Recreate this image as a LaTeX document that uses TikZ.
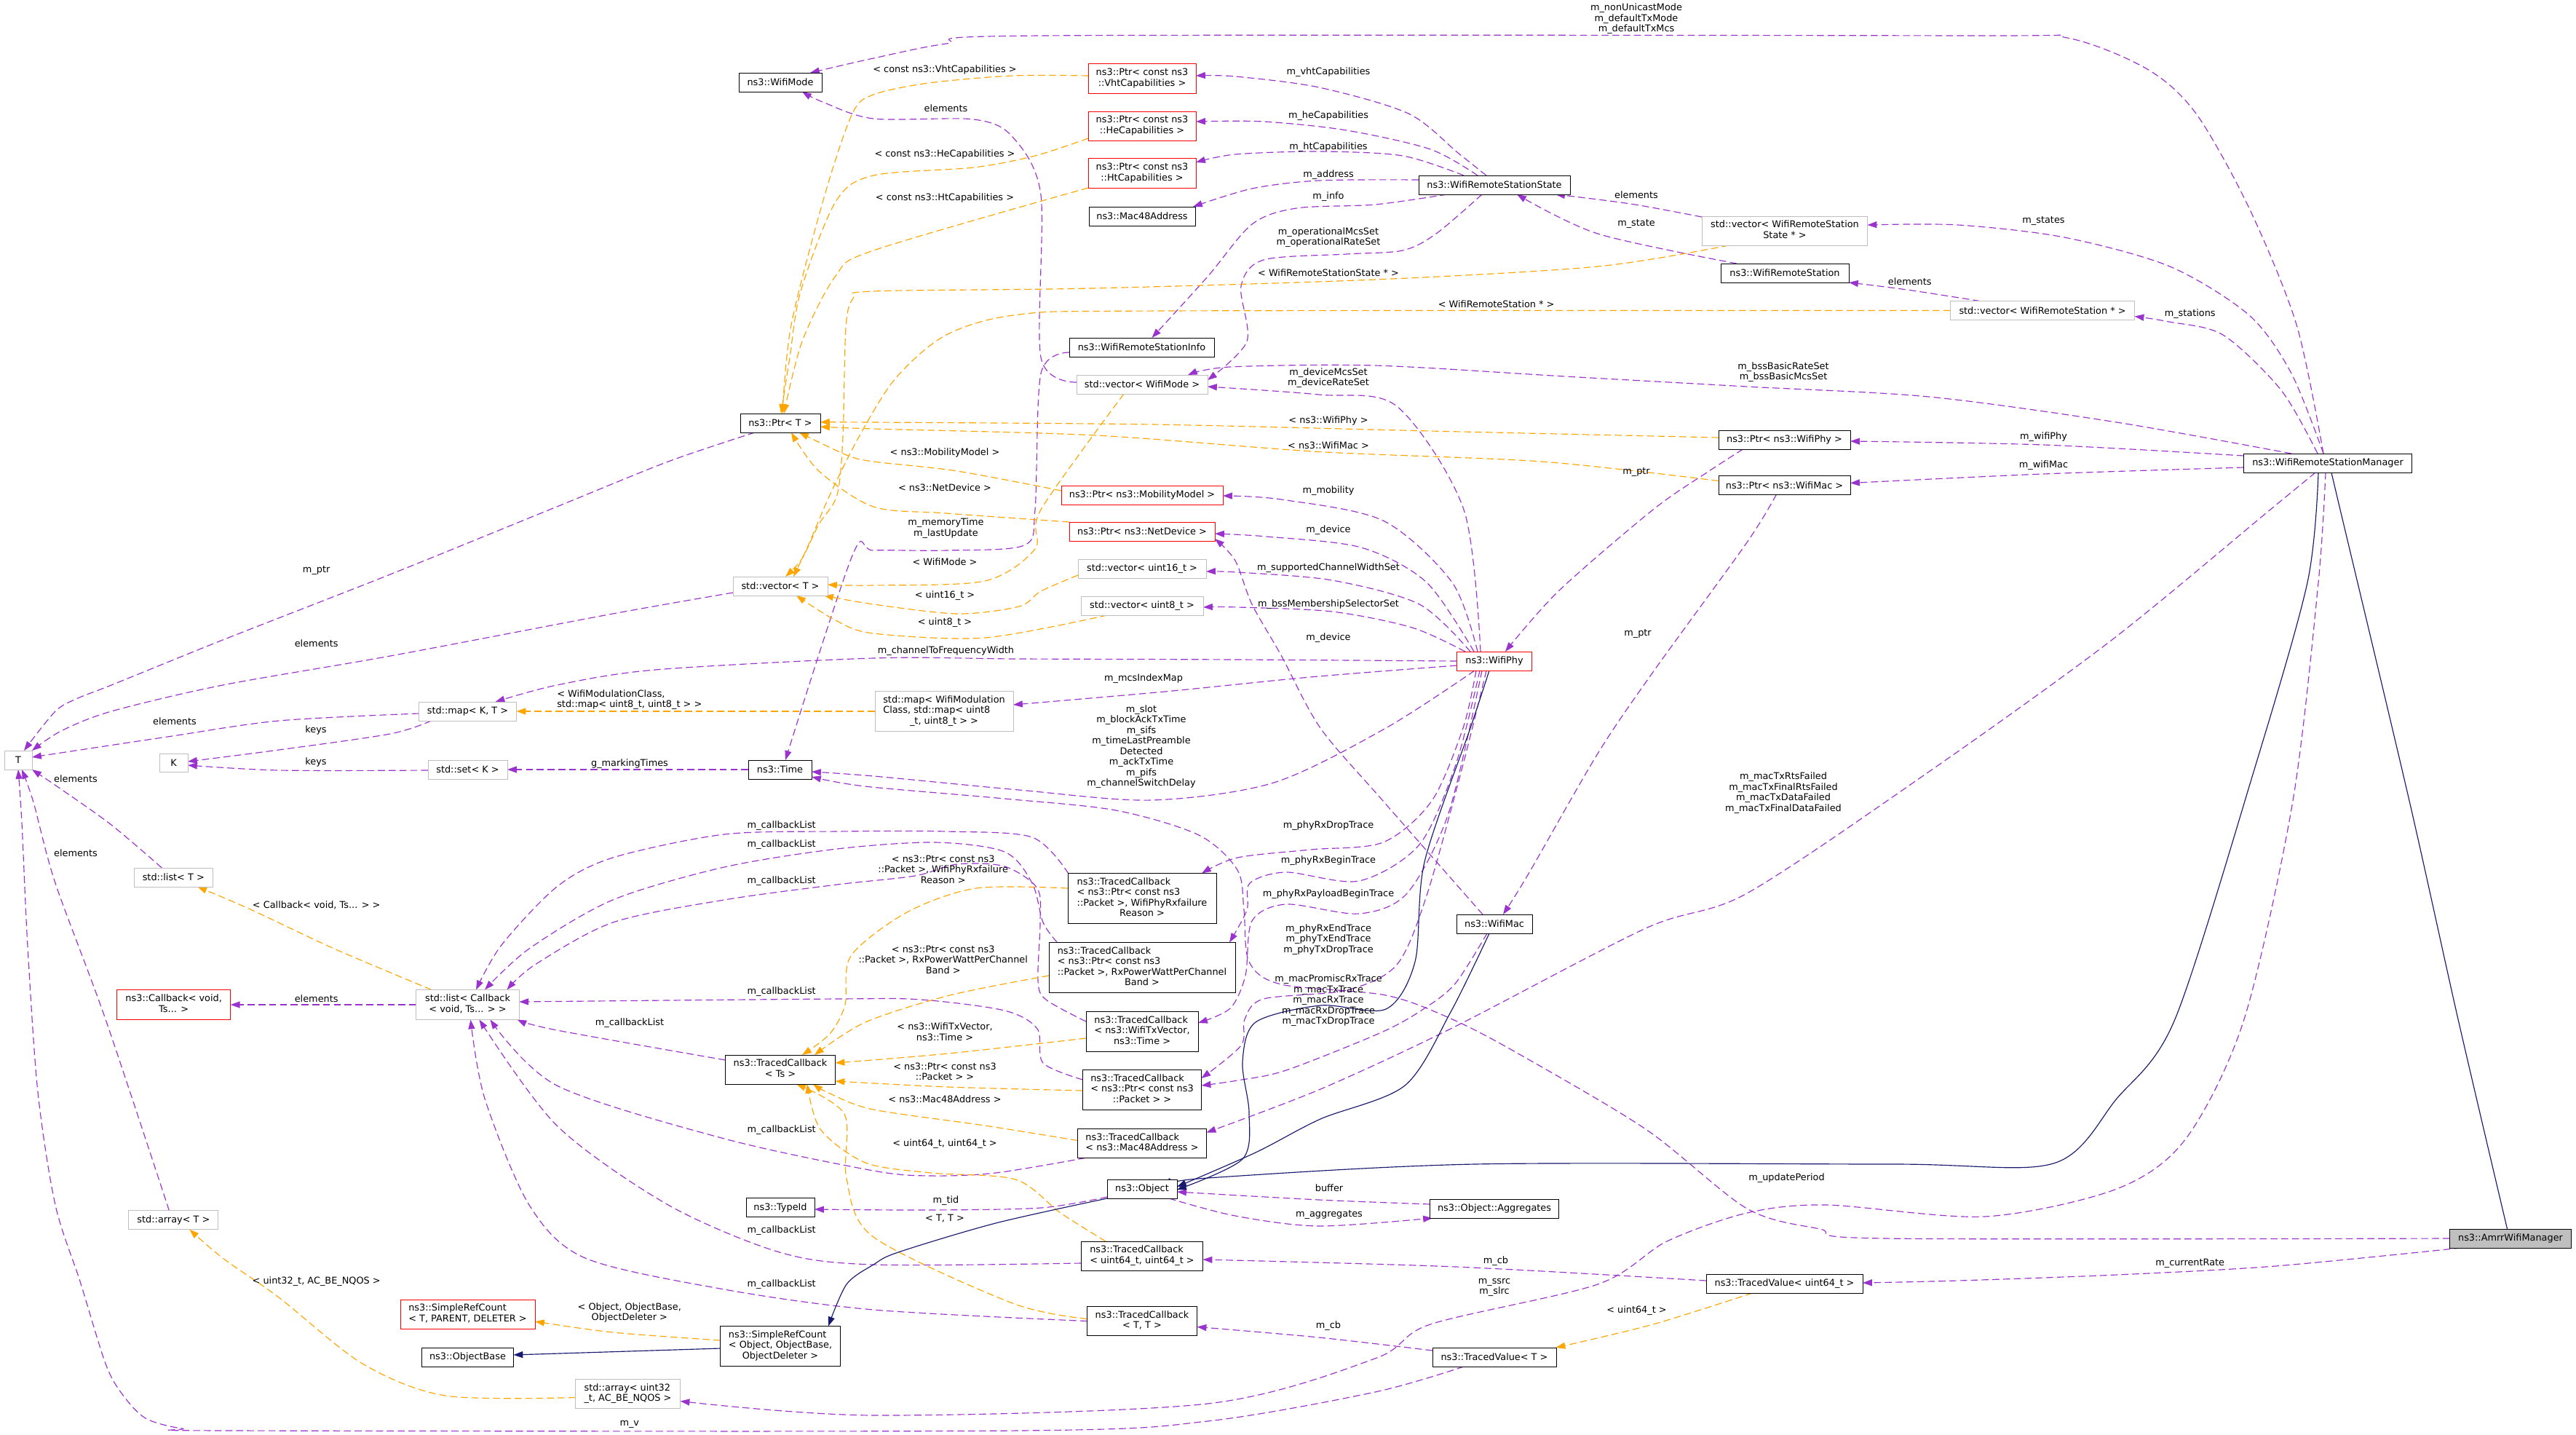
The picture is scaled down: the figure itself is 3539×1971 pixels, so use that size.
\documentclass[tikz,border=0pt]{standalone}
\usepackage{fontspec}
\setmainfont{DejaVu Sans}
\usetikzlibrary{arrows.meta,calc}
\definecolor{purp}{HTML}{9A32CD}
\definecolor{orng}{HTML}{FFA500}
\definecolor{mblue}{HTML}{191970}
\newcommand\twoL[2]{\begin{tabular}{@{}l@{}}#1\\\multicolumn{1}{@{}c@{}}{#2}\end{tabular}}
\newcommand\threeL[3]{\begin{tabular}{@{}l@{}}#1\\#2\\\multicolumn{1}{@{}c@{}}{#3}\end{tabular}}
\newcommand\fourL[4]{\begin{tabular}{@{}l@{}}#1\\#2\\#3\\\multicolumn{1}{@{}c@{}}{#4}\end{tabular}}
\pgfdeclarelayer{bgl}\pgfdeclarelayer{edges}\pgfsetlayers{bgl,edges,main}
\tikzset{
  box/.style={draw, inner sep=0pt, fill=white, line width=0.7pt, font=\fontsize{10}{11.28}\selectfont, anchor=center},
  blk/.style={box, draw=black},
  gry/.style={box, draw=black!25},
  rdb/.style={box, draw=red},
  sz/.style 2 args={minimum width=#1*0.7776pt, minimum height=#2*0.7776pt},
  lbl/.style={inner sep=0pt, align=center, font=\fontsize{10}{11.28}\selectfont},
  pe/.style={draw=purp, line width=0.9pt, dash pattern=on 7.5pt off 4pt, -{Triangle[length=10pt,width=7pt]}},
  oe/.style={draw=orng, line width=0.9pt, dash pattern=on 7.5pt off 4pt, -{Triangle[length=10pt,width=7pt]}},
  be/.style={draw=mblue, line width=0.9pt, -{Triangle[length=10pt,width=7pt]}},
}
\begin{document}
\begin{tikzpicture}[x=0.7776pt,y=-0.7776pt]
\useasboundingbox (0,0) rectangle (3539,1971);
\begin{pgfonlayer}{bgl}\fill[white] (0,0) rectangle (3539,1971);\end{pgfonlayer}
% ---------------- nodes
\node[blk,sz={114}{26}] (mode) at (1072,113) {ns3::WifiMode};
\node[rdb,sz={148}{41}] (pvht) at (1569,108) {\twoL{ns3::Ptr< const ns3}{::VhtCapabilities >}};
\node[rdb,sz={148}{40}] (phe) at (1569,173) {\twoL{ns3::Ptr< const ns3}{::HeCapabilities >}};
\node[rdb,sz={148}{41}] (pht) at (1569,238) {\twoL{ns3::Ptr< const ns3}{::HtCapabilities >}};
\node[blk,sz={146}{26}] (mac48) at (1569,297) {ns3::Mac48Address};
\node[blk,sz={208}{26}] (state) at (2053,254) {ns3::WifiRemoteStationState};
\node[blk,sz={199}{26}] (info) at (1568.5,477) {ns3::WifiRemoteStationInfo};
\node[gry,sz={180}{26}] (vmode) at (1569,528) {std::vector< WifiMode >};
\node[gry,sz={227}{40}] (vstate) at (2452,317) {\twoL{std::vector< WifiRemoteStation}{State * >}};
\node[blk,sz={176}{26}] (wrs) at (2452,375) {ns3::WifiRemoteStation};
\node[gry,sz={253}{26}] (vwrs) at (2806,426.5) {std::vector< WifiRemoteStation * >};
\node[blk,sz={231}{26}] (mgr) at (3198,636) {ns3::WifiRemoteStationManager};
\node[blk,sz={181}{26}] (pphy) at (2451.5,604) {ns3::Ptr< ns3::WifiPhy >};
\node[blk,sz={181}{26}] (pmac) at (2451.5,666.5) {ns3::Ptr< ns3::WifiMac >};
\node[blk,sz={110}{26}] (ptrT) at (1072,581) {ns3::Ptr< T >};
\node[gry,sz={130}{26}] (vecT) at (1072,805) {std::vector< T >};
\node[rdb,sz={222}{26}] (pmob) at (1569,680) {ns3::Ptr< ns3::MobilityModel >};
\node[rdb,sz={200}{26}] (pnet) at (1569,730) {ns3::Ptr< ns3::NetDevice >};
\node[gry,sz={176}{26}] (v16) at (1569,781) {std::vector< uint16\_t >};
\node[gry,sz={168}{26}] (v8) at (1569,832) {std::vector< uint8\_t >};
\node[rdb,sz={103}{26}] (phy) at (2053,908) {ns3::WifiPhy};
\node[gry,sz={190}{55}] (mapmod) at (1297,977) {\threeL{std::map< WifiModulation}{Class, std::map< uint8}{\_t, uint8\_t > >}};
\node[gry,sz={134}{26}] (mapKT) at (642.5,977) {std::map< K, T >};
\node[gry,sz={38}{26}] (T) at (25,1044) {T};
\node[gry,sz={39}{25}] (K) at (238.5,1048) {K};
\node[gry,sz={109}{26}] (setK) at (642.5,1057) {std::set< K >};
\node[blk,sz={87}{26}] (time) at (1071.5,1057) {ns3::Time};
\node[gry,sz={108}{26}] (listT) at (238.3,1205) {std::list< T >};
\node[rdb,sz={156}{41}] (cb) at (238.7,1380) {\twoL{ns3::Callback< void,}{Ts... >}};
\node[gry,sz={141.5}{41}] (listcb) at (642.5,1380) {\twoL{std::list< Callback}{< void, Ts... > >}};
\node[blk,sz={204}{69}] (tcfail) at (1569,1234) {\fourL{ns3::TracedCallback}{< ns3::Ptr< const ns3}{::Packet >, WifiPhyRxfailure}{Reason >}};
\node[blk,sz={256}{69}] (tcpow) at (1569,1329) {\fourL{ns3::TracedCallback}{< ns3::Ptr< const ns3}{::Packet >, RxPowerWattPerChannel}{Band >}};
\node[blk,sz={154}{55}] (tcvec) at (1569,1417) {\threeL{ns3::TracedCallback}{< ns3::WifiTxVector,}{ns3::Time >}};
\node[blk,sz={163}{55}] (tcpkt) at (1569,1497) {\threeL{ns3::TracedCallback}{< ns3::Ptr< const ns3}{::Packet > >}};
\node[blk,sz={177}{40}] (tcmac) at (1569,1570.5) {\twoL{ns3::TracedCallback}{< ns3::Mac48Address >}};
\node[blk,sz={96}{26}] (obj) at (1569,1633) {ns3::Object};
\node[blk,sz={177}{26}] (aggr) at (2053,1660) {ns3::Object::Aggregates};
\node[blk,sz={94}{26}] (typeid) at (1072,1658.5) {ns3::TypeId};
\node[blk,sz={167}{40}] (tcu64) at (1569,1725) {\twoL{ns3::TracedCallback}{< uint64\_t, uint64\_t >}};
\node[blk,sz={151}{40}] (tcTT) at (1569,1814.5) {\twoL{ns3::TracedCallback}{< T, T >}};
\node[blk,sz={170}{26}] (tvT) at (2053,1864) {ns3::TracedValue< T >};
\node[blk,sz={215}{26}] (tvu64) at (2451.5,1763) {ns3::TracedValue< uint64\_t >};
\node[blk,sz={167}{26},fill=black!25] (amrr) at (3449,1701) {ns3::AmrrWifiManager};
\node[blk,sz={151}{40}] (tcTs) at (1072,1469) {\twoL{ns3::TracedCallback}{< Ts >}};
\node[rdb,sz={185}{40}] (srcT) at (642.5,1805) {\twoL{ns3::SimpleRefCount}{< T, PARENT, DELETER >}};
\node[blk,sz={126}{26}] (objbase) at (642.5,1864) {ns3::ObjectBase};
\node[blk,sz={164.5}{55}] (srcObj) at (1072,1849) {\threeL{ns3::SimpleRefCount}{< Object, ObjectBase,}{ObjectDeleter >}};
\node[gry,sz={144}{40}] (arrU) at (862.5,1914.5) {\twoL{std::array< uint32}{\_t, AC\_BE\_NQOS >}};
\node[gry,sz={123}{26}] (arrT) at (238.4,1675.7) {std::array< T >};
\node[blk,sz={104}{26}] (wmac) at (2053,1269) {ns3::WifiMac};
% ---------------- labels
\node[lbl] (l1) at (2248,26) {m\_nonUnicastMode\\m\_defaultTxMode\\m\_defaultTxMcs};
\node[lbl] (l2) at (1825,99) {m\_vhtCapabilities};
\node[lbl] (l3) at (1825,159) {m\_heCapabilities};
\node[lbl] (l4) at (1825,202) {m\_htCapabilities};
\node[lbl] (l5) at (1825,240) {m\_address};
\node[lbl] (l6) at (1825,270.5) {m\_info};
\node[lbl] (l7) at (1825,326) {m\_operationalMcsSet\\m\_operationalRateSet};
\node[lbl] (l8) at (2248,268) {elements};
\node[lbl] (l9) at (2248,307) {m\_state};
\node[lbl] (l10) at (2807.5,303.6) {m\_states};
\node[lbl] (l11) at (2623.7,387) {elements};
\node[lbl] (l12) at (3008.7,431) {m\_stations};
\node[lbl] (l13) at (2450,511) {m\_bssBasicRateSet\\m\_bssBasicMcsSet};
\node[lbl] (l14) at (2807.5,600.4) {m\_wifiPhy};
\node[lbl] (l15) at (2807.5,639) {m\_wifiMac};
\node[lbl] (l16) at (2248,648.6) {m\_ptr};
\node[lbl] (l17) at (2250,870.5) {m\_ptr};
\node[lbl] (l18) at (1825,519) {m\_deviceMcsSet\\m\_deviceRateSet};
\node[lbl] (l19) at (1825,674.5) {m\_mobility};
\node[lbl] (l20) at (1825,727.7) {m\_device};
\node[lbl] (l21) at (1825,876) {m\_device};
\node[lbl] (l22) at (1825,780) {m\_supportedChannelWidthSet};
\node[lbl] (l23) at (1825,830) {m\_bssMembershipSelectorSet};
\node[lbl] (l24) at (1299.5,894) {m\_channelToFrequencyWidth};
\node[lbl] (l25) at (1571,931.7) {m\_mcsIndexMap};
\node[lbl] (l26) at (1568,1025.5) {m\_slot\\m\_blockAckTxTime\\m\_sifs\\m\_timeLastPreamble\\Detected\\m\_ackTxTime\\m\_pifs\\m\_channelSwitchDelay};
\node[lbl] (l27) at (2454.5,1618.5) {m\_updatePeriod};
\node[lbl] (l28) at (240,990.6) {elements};
\node[lbl] (l29) at (434,1002.7) {keys};
\node[lbl] (l30) at (434,1047) {keys};
\node[lbl] (l31) at (865,1048.7) {g\_markingTimes};
\node[lbl] (l32) at (434.7,783.5) {m\_ptr};
\node[lbl] (l33) at (434.7,884) {elements};
\node[lbl] (l34) at (104,1070) {elements};
\node[lbl] (l35) at (104,1171.4) {elements};
\node[lbl] (l36) at (864.8,1956.4) {m\_v};
\node[lbl] (l37) at (2053,1768.5) {m\_ssrc\\m\_slrc};
\node[lbl] (l38) at (2450,1089) {m\_macTxRtsFailed\\m\_macTxFinalRtsFailed\\m\_macTxDataFailed\\m\_macTxFinalDataFailed};
\node[lbl] (l39) at (1825,1374.4) {m\_macPromiscRxTrace\\m\_macTxTrace\\m\_macRxTrace\\m\_macRxDropTrace\\m\_macTxDropTrace};
\node[lbl] (l40) at (1825,1290.6) {m\_phyRxEndTrace\\m\_phyTxEndTrace\\m\_phyTxDropTrace};
\node[lbl] (l41) at (1825,1227.7) {m\_phyRxPayloadBeginTrace};
\node[lbl] (l42) at (1825,1182.6) {m\_phyRxBeginTrace};
\node[lbl] (l43) at (1825,1134) {m\_phyRxDropTrace};
\node[lbl] (l44) at (2055,1732.5) {m\_cb};
\node[lbl] (l45) at (3008.7,1735.4) {m\_currentRate};
\node[lbl] (l46) at (1825,1821) {m\_cb};
\node[lbl] (l47) at (1299.5,1648.7) {m\_tid};
\node[lbl] (l48) at (1826,1632) {buffer};
\node[lbl] (l49) at (1826,1668.8) {m\_aggregates};
\node[lbl] (l50) at (434.7,1371.4) {elements};
\node[lbl] (l51) at (1073.7,1134) {m\_callbackList};
\node[lbl] (l52) at (1073.7,1160) {m\_callbackList};
\node[lbl] (l53) at (1073.7,1210) {m\_callbackList};
\node[lbl] (l54) at (1073.7,1362.5) {m\_callbackList};
\node[lbl] (l55) at (865,1405) {m\_callbackList};
\node[lbl] (l56) at (1073.7,1552) {m\_callbackList};
\node[lbl] (l57) at (1073.7,1690) {m\_callbackList};
\node[lbl] (l58) at (1073.7,1764) {m\_callbackList};
\node[lbl] (l59) at (1299.5,725.7) {m\_memoryTime\\m\_lastUpdate};
\node[lbl] (l60) at (1299.5,148.7) {elements};
\node[lbl] (l61) at (1298,95.5) {< const ns3::VhtCapabilities >};
\node[lbl] (l62) at (1298,211.6) {< const ns3::HeCapabilities >};
\node[lbl] (l63) at (1298,272) {< const ns3::HtCapabilities >};
\node[lbl] (l64) at (1298,622) {< ns3::MobilityModel >};
\node[lbl] (l65) at (1298,670) {< ns3::NetDevice >};
\node[lbl] (l66) at (1825,578) {< ns3::WifiPhy >};
\node[lbl] (l67) at (1825,612) {< ns3::WifiMac >};
\node[lbl] (l68) at (1298,772) {< WifiMode >};
\node[lbl] (l69) at (1298,818) {< uint16\_t >};
\node[lbl] (l70) at (1298,855) {< uint8\_t >};
\node[lbl] (l71) at (1825,375) {< WifiRemoteStationState * >};
\node[lbl] (l72) at (2055.6,418) {< WifiRemoteStation * >};
\node[lbl,align=left,anchor=west] (l73) at (765,961) {< WifiModulationClass,\\std::map< uint8\_t, uint8\_t > >};
\node[lbl] (l74) at (434.7,1243) {< Callback< void, Ts... > >};
\node[lbl] (l75) at (434.7,1760.5) {< uint32\_t, AC\_BE\_NQOS >};
\node[lbl] (l76) at (864.8,1803) {< Object, ObjectBase,\\ObjectDeleter >};
\node[lbl] (l77) at (2248.5,1800.6) {< uint64\_t >};
\node[lbl] (l78) at (1295.7,1194) {< ns3::Ptr< const ns3\\::Packet >, WifiPhyRxfailure\\Reason >};
\node[lbl] (l79) at (1295.7,1318) {< ns3::Ptr< const ns3\\::Packet >, RxPowerWattPerChannel\\Band >};
\node[lbl] (l80) at (1298,1417) {< ns3::WifiTxVector,\\ns3::Time >};
\node[lbl] (l81) at (1298,1472) {< ns3::Ptr< const ns3\\::Packet > >};
\node[lbl] (l82) at (1298,1510) {< ns3::Mac48Address >};
\node[lbl] (l83) at (1298,1571.5) {< uint64\_t, uint64\_t >};
\node[lbl] (l84) at (1298,1674) {< T, T >};
% ---------------- edges
\begin{pgfonlayer}{edges}
% purple usage edges
\draw[pe] plot[smooth] coordinates {($(mgr)+(-6,-13)$) (3155,446) (3090,286) (3017,156) (2950,95) (2840,52) (2700,49) (1430,49) (1300,60) (1200,80) ($(mode)+(41,-13)$)};
\draw[pe] plot[smooth] coordinates {($(state)+(-11,-13)$) (2003,210) (1935,156) (1812,120) (1697,105) ($(pvht)+(74,-4)$)};
\draw[pe] plot[smooth] coordinates {($(state)+(-23,-13)$) (1965,205) (1850,179) (1736,167) ($(phe)+(74,-6)$)};
\draw[pe] plot[smooth] coordinates {($(state)+(-42,-13)$) (1927,214) (1812,208) (1697,212) ($(pht)+(74,-15)$)};
\draw[pe] plot[smooth] coordinates {($(state)+(-104,-7)$) (1812,248) (1720,259) ($(mac48)+(70,-13)$)};
\draw[pe] plot[smooth] coordinates {($(state)+(-65,13)$) (1889,281) (1781,286) (1720,308) (1659,380) ($(info)+(14,-13)$)};
\draw[pe] plot[smooth] coordinates {($(state)+(-17,13)$) (1973,321) (1927,344) (1850,349) (1736,357) (1705,393) (1713,469) ($(vmode)+(90,-6)$)};
\draw[pe] plot[smooth] coordinates {($(vstate)+(-114,-19)$) (2240,280) ($(state)+(84,13)$)};
\draw[pe] plot[smooth] coordinates {($(wrs)+(-66,-13)$) (2195,321) ($(state)+(31,13)$)};
\draw[pe] plot[smooth] coordinates {($(mgr)+(-6,-13)$) (3148,513) (3090,433) (2981,366) (2836,326) (2690,309) ($(vstate)+(113.5,-8)$)};
\draw[pe] plot[smooth] coordinates {($(vwrs)+(-86,-13)$) (2620,398) ($(wrs)+(88,13)$)};
\draw[pe] plot[smooth] coordinates {($(mgr)+(-14,-13)$) (3134,536) (3054,460) (2980,442) ($(vwrs)+(126.5,8)$)};
\draw[pe] plot[smooth] coordinates {($(mgr)+(-50,-13)$) (2908,580) (2650,545) (2400,531) (2150,517) (1889,502) (1690,504) ($(vmode)+(63,-13)$)};
\draw[pe] plot[smooth] coordinates {($(mgr)+(-115.5,-10)$) (2807,611) ($(pphy)+(90.5,2)$)};
\draw[pe] plot[smooth] coordinates {($(mgr)+(-115.5,6)$) (2807,651) ($(pmac)+(90.5,-3)$)};
\draw[pe] plot[smooth] coordinates {($(pphy)+(-57,13)$) (2348,647) (2271,700) (2141,812) ($(phy)+(15,-13)$)};
\draw[pe] plot[smooth] coordinates {($(pmac)+(-11,12.5)$) (2400,745) (2271,923) (2195,1035) (2100,1200) ($(wmac)+(12,-13)$)};
\draw[pe] plot[smooth] coordinates {($(phy)+(-19,-13)$) (2011,700) (1919,558) (1812,542) ($(vmode)+(90,3)$)};
\draw[pe] plot[smooth] coordinates {($(phy)+(-23,-13)$) (1995,800) (1900,715) (1760,686) ($(pmob)+(111,1)$)};
\draw[pe] plot[smooth] coordinates {($(phy)+(-28,-13)$) (1960,800) (1870,752) (1740,737) ($(pnet)+(100,3)$)};
\draw[pe] plot[smooth] coordinates {($(wmac)+(-16,-13)$) (1900,1100) (1814,1000) (1760,900) (1720,830) (1697,770) ($(pnet)+(100,10)$)};
\draw[pe] plot[smooth] coordinates {($(phy)+(-33,-13)$) (1950,830) (1830,797) (1700,786) ($(v16)+(88,4)$)};
\draw[pe] plot[smooth] coordinates {($(phy)+(-40,-13)$) (1940,862) (1830,840) (1700,834) ($(v8)+(84,2)$)};
\draw[pe] plot[smooth] coordinates {($(phy)+(-51.5,0)$) (1700,906) (1400,905) (1200,904) (900,920) (765,941) ($(mapKT)+(38,-13)$)};
\draw[pe] plot[smooth] coordinates {($(phy)+(-51.5,6)$) (1800,930) (1600,950) ($(mapmod)+(95,-9)$)};
\draw[pe] plot[smooth] coordinates {($(phy)+(-27,13)$) (1904,1000) (1750,1075) (1582,1099) (1400,1085) (1200,1066) ($(time)+(43.5,3)$)};
\draw[pe] plot[smooth] coordinates {($(amrr)+(-83.5,0)$) (2590,1701) (2500,1688) (2400,1660) (2261,1551) (2082,1445) (1993,1399) (1904,1367) (1760,1352) (1716,1321) (1709,1250) (1700,1195) (1647,1147) (1533,1113) (1380,1097) (1188,1080) ($(time)+(43.5,10)$)};
\draw[pe] plot[smooth] coordinates {($(mapKT)+(-67,3)$) (383,990) (230,1012) ($(T)+(19,-4)$)};
\draw[pe] plot[smooth] coordinates {($(mapKT)+(-50,13)$) (536,1008) (383,1030) ($(K)+(19.5,-2)$)};
\draw[pe] plot[smooth] coordinates {($(setK)+(-54.5,1)$) (383,1058) ($(K)+(19.5,3)$)};
\draw[pe] ($(time)+(-43.5,0)$) -- ($(setK)+(54.5,0)$);
\draw[pe] plot[smooth] coordinates {($(ptrT)+(-35,13)$) (918,634) (765,696) (536,789) (306,879) (153,941) (107,959) (76,977) ($(T)+(8,-13)$)};
\draw[pe] plot[smooth] coordinates {($(vecT)+(-65,9)$) (842,843) (536,901) (306,941) (153,977) (84,1004) ($(T)+(19,-13)$)};
\draw[pe] plot[smooth] coordinates {($(listT)+(-16,-13)$) (153,1133) (84,1084) ($(T)+(19,13)$)};
\draw[pe] plot[smooth] coordinates {($(arrT)+(-6,-13)$) (145,1400) (76,1213) (46,1102) ($(T)+(5,13)$)};
\draw[pe] plot[smooth] coordinates {($(tvT)+(-42,13)$) (1889,1912) (1659,1952) (1400,1965) (320,1965) (250,1962) (200,1948) (168,1915) (145,1873) (110,1760) (76,1655) (52,1500) (38,1300) (30,1130) ($(T)+(0,13)$)};
\draw[pe] plot[smooth] coordinates {($(mgr)+(-3,13)$) (3185,800) (3150,1100) (3083,1400) (3003,1564) (2908,1633) (2727,1671) (2509,1655) (2400,1666) (2290,1705) (2195,1764) (1965,1819) (1889,1866) (1659,1928) (1200,1944) ($(arrU)+(72,10)$)};
\draw[pe] plot[smooth] coordinates {($(mgr)+(-17,13)$) (3119,700) (2900,880) (2650,1060) (2400,1227) (2261,1275) (1993,1413) (1814,1496) ($(tcmac)+(88.5,-15)$)};
\draw[pe] plot[smooth] coordinates {($(wmac)+(-10,13)$) (2000,1350) (1960,1383) (1900,1417) (1767,1470) (1700,1484) ($(tcpkt)+(81.5,-6)$)};
\draw[pe] plot[smooth] coordinates {($(phy)+(-11,13)$) (2010,1050) (1960,1230) (1919,1325) (1850,1360) (1736,1372) (1710,1400) (1705,1436) ($(tcpkt)+(81.5,-16)$)};
\draw[pe] plot[smooth] coordinates {($(phy)+(-17,13)$) (1990,1117) (1933,1227) (1867,1255) (1767,1242) (1720,1265) (1711,1340) (1690,1385) ($(tcvec)+(77,-12)$)};
\draw[pe] plot[smooth] coordinates {($(phy)+(-20,13)$) (2000,1050) (1950,1160) (1867,1210) (1767,1198) (1717,1213) (1713,1250) ($(tcpow)+(120,-34.5)$)};
\draw[pe] plot[smooth] coordinates {($(phy)+(-25,13)$) (2010,1000) (1967,1100) (1900,1157) (1800,1167) (1700,1178) ($(tcfail)+(82,-34.5)$)};
\draw[pe] plot[smooth] coordinates {($(tvu64)+(-107.5,-4)$) (2000,1740) ($(tcu64)+(83.5,5)$)};
\draw[pe] plot[smooth] coordinates {($(amrr)+(-68,13)$) (3126,1739) (2908,1751) (2690,1759) ($(tvu64)+(107.5,-1)$)};
\draw[pe] plot[smooth] coordinates {($(tvT)+(-85,-9)$) (1812,1837) ($(tcTT)+(75.5,8)$)};
\draw[pe] plot[smooth] coordinates {($(obj)+(-48,11)$) (1430,1659) (1276,1662) ($(typeid)+(47,2.5)$)};
\draw[pe] plot[smooth] coordinates {($(aggr)+(-88.5,-6)$) (1812,1648) ($(obj)+(48,4)$)};
\draw[pe] plot[smooth] coordinates {($(obj)+(37,13)$) (1697,1670) (1812,1684) ($(aggr)+(-85,13)$)};
\draw[pe] ($(listcb)+(-70.75,0)$) -- ($(cb)+(78,0)$);
\draw[pe] plot[smooth] coordinates {($(tcfail)+(-101,-34)$) (1418,1150) (1300,1142) (1150,1142) (995,1146) (842,1178) (765,1218) (689,1298) ($(listcb)+(11.5,-20.5)$)};
\draw[pe] plot[smooth] coordinates {($(tcpow)+(-117,-35)$) (1433,1267) (1418,1213) (1380,1170) (1284,1157) (1150,1166) (995,1191) (842,1236) (727,1303) ($(listcb)+(23.5,-20.5)$)};
\draw[pe] plot[smooth] coordinates {($(tcvec)+(-77,-14)$) (1437,1373) (1426,1347) (1429,1267) (1425,1220) (1380,1190) (1315,1187) (1257,1203) (1150,1215) (995,1236) (842,1267) (735,1325) ($(listcb)+(54,-20.5)$)};
\draw[pe] plot[smooth] coordinates {($(tcpkt)+(-81.5,-14)$) (1433,1460) (1425,1413) (1380,1388) (1265,1373) (1150,1372) ($(listcb)+(70.75,-4)$)};
\draw[pe] plot[smooth] coordinates {($(tcTs)+(-75.5,-13)$) (765,1415) ($(listcb)+(68,20.5)$)};
\draw[pe] plot[smooth] coordinates {($(tcmac)+(-78,20)$) (1368,1611) (1279,1615) (1200,1608) (995,1564) (765,1491) ($(listcb)+(31,20.5)$)};
\draw[pe] plot[smooth] coordinates {($(tcu64)+(-83.5,10)$) (1200,1737) (1071,1720) (918,1655) (765,1546) ($(listcb)+(16,20.5)$)};
\draw[pe] plot[smooth] coordinates {($(tcTT)+(-75.5,0)$) (1200,1799) (995,1771) (804,1728) (727,1655) (666,1509) ($(listcb)+(4,20.5)$)};
\draw[pe] plot[smooth] coordinates {($(info)+(-99.5,7)$) (1430,513) (1422,700) (1407,749) (1300,756) (1200,756) (1171,763) ($(time)+(7.5,-13)$)};
\draw[pe] plot[smooth] coordinates {($(vmode)+(-90,-3)$) (1430,491) (1430,268) (1391,188) (1338,164) (1200,163) (1130,140) ($(mode)+(30,13)$)};
% orange template edges
\draw[oe] plot[smooth] coordinates {($(pvht)+(-74,-4)$) (1391,104) (1276,114) (1200,130) (1171,156) (1133,268) (1087,446) ($(ptrT)+(3,-13)$)};
\draw[oe] plot[smooth] coordinates {($(phe)+(-74,17)$) (1422,214) (1338,230) (1200,241) (1148,277) (1100,400) (1085,491) ($(ptrT)+(1,-13)$)};
\draw[oe] plot[smooth] coordinates {($(pht)+(-74,20)$) (1200,344) (1148,379) (1102,469) ($(ptrT)+(5,-13)$)};
\draw[oe] plot[smooth] coordinates {($(pmob)+(-111,-6)$) (1315,647) (1200,634) (1163,625) ($(ptrT)+(26,13)$)};
\draw[oe] plot[smooth] coordinates {($(pnet)+(-100,-13)$) (1300,705) (1200,696) (1125,647) ($(ptrT)+(15,13)$)};
\draw[oe] plot[smooth] coordinates {($(pphy)+(-90.5,-3)$) (1965,592) (1583,583) (1200,580) ($(ptrT)+(55,-1)$)};
\draw[oe] plot[smooth] coordinates {($(pmac)+(-90.5,-6)$) (2118,634) (1812,620.5) (1506,598) (1200,589) ($(ptrT)+(55,5)$)};
\draw[oe] plot[smooth] coordinates {($(vmode)+(-25,13)$) (1430,700) (1422,754) (1353,798) (1200,804) ($(vecT)+(65,-2)$)};
\draw[oe] plot[smooth] coordinates {($(v16)+(-88,9)$) (1430,812) (1400,833) (1315,843) (1200,830) ($(vecT)+(60,13)$)};
\draw[oe] plot[smooth] coordinates {($(v8)+(-48,13)$) (1353,876) (1200,870) (1148,852) ($(vecT)+(22,13)$)};
\draw[oe] plot[smooth] coordinates {($(vstate)+(-77,20)$) (2195,366) (1889,384) (1500,396) (1200,400) (1172,410) (1162,450) (1158,600) (1150,680) (1125,720) (1102,767) ($(vecT)+(7,-13)$)};
\draw[oe] plot[smooth] coordinates {($(vwrs)+(-126.5,0)$) (1600,427) (1400,432) (1300,460) (1230,520) (1180,600) (1140,680) (1110,750) ($(vecT)+(18,-13)$)};
\draw[oe] ($(mapmod)+(-95,0)$) -- ($(mapKT)+(67,0)$);
\draw[oe] plot[smooth] coordinates {($(listcb)+(-49.5,-20.5)$) (459,1303) (344,1249) ($(listT)+(33,13)$)};
\draw[oe] plot[smooth] coordinates {($(arrU)+(-72,5)$) (612,1917) (498,1873) (383,1782) (306,1728) ($(arrT)+(22,13)$)};
\draw[oe] plot[smooth] coordinates {($(srcObj)+(-82.25,-8)$) (842,1830) ($(srcT)+(92.5,10)$)};
\draw[oe] plot[smooth] coordinates {($(tvu64)+(-44,13)$) (2271,1819) ($(tvT)+(84.5,-13)$)};
\draw[oe] plot[smooth] coordinates {($(tcfail)+(-102,-14)$) (1341,1220) (1246,1253) (1169,1313) (1161,1380) (1140,1420) ($(tcTs)+(30,-20)$)};
\draw[oe] plot[smooth] coordinates {($(tcpow)+(-128,11)$) (1305,1367) (1189,1404) ($(tcTs)+(47,-20)$)};
\draw[oe] plot[smooth] coordinates {($(tcvec)+(-77,9)$) (1303,1447) ($(tcTs)+(75.5,-9)$)};
\draw[oe] plot[smooth] coordinates {($(tcpkt)+(-81.5,1)$) (1303,1493) ($(tcTs)+(75.5,16)$)};
\draw[oe] plot[smooth] coordinates {($(tcmac)+(-88.5,-4)$) (1353,1546) (1200,1524) (1140,1502) ($(tcTs)+(45,20)$)};
\draw[oe] plot[smooth] coordinates {($(tcu64)+(-50,-20)$) (1457,1666) (1395,1620) (1279,1611) (1189,1597) (1127,1551) ($(tcTs)+(37,20)$)};
\draw[oe] plot[smooth] coordinates {($(tcTT)+(-75.5,-3)$) (1391,1790) (1200,1699) (1163,1619) (1160,1530) ($(tcTs)+(22,20)$)};
% inheritance edges
\draw[be] plot[smooth] coordinates {($(amrr)+(-4.5,-13)$) (3377,1400) (3310,1100) (3215,700) ($(mgr)+(5,13)$)};
\draw[be] plot[smooth] coordinates {($(mgr)+(-13,13)$) (3170,800) (3097,1057) (2988,1400) (2908,1509) (2821,1598) (2600,1599) (2026,1599) (1659,1618) ($(obj)+(48,-7)$)};
\draw[be] plot[smooth] coordinates {($(phy)+(-7,13)$) (2020,1000) (1957,1184) (1944,1321) (1904,1386) (1814,1381) (1725,1404) (1707,1459) (1716,1528) (1707,1592) ($(obj)+(48,1)$)};
\draw[be] plot[smooth] coordinates {($(wmac)+(-7,13)$) (1993,1390) (1930,1491) (1814,1537) (1725,1583) ($(obj)+(48,-3)$)};
\draw[be] plot[smooth] coordinates {($(obj)+(-48,13)$) (1368,1680) (1234,1720) (1200,1737) (1163,1764) ($(srcObj)+(66,-27.5)$)};
\draw[be] ($(srcObj)+(-82.25,3)$) -- ($(objbase)+(63,-3)$);
\end{pgfonlayer}
\end{tikzpicture}
\end{document}
